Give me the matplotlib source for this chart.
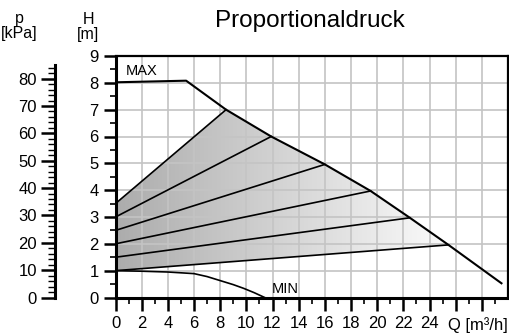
import numpy as np
import matplotlib
matplotlib.use('Agg')
from matplotlib import pyplot as plt
from matplotlib.colors import LinearSegmentedColormap
from matplotlib.patches import Polygon

plt.rcParams['font.family'] = ['Liberation Sans', 'DejaVu Sans']

# MAX curve (Q in m3/h, H in m)
max_q = [0, 5.4, 8.45, 11.9, 16.0, 19.5, 22.5, 25.45, 29.5]
max_h = [8.02, 8.08, 7.0, 6.0, 4.96, 3.97, 2.97, 1.96, 0.53]

# proportional pressure lines: head at zero flow, end on the MAX curve
prop_h0 = [3.5, 3.0, 2.5, 2.0, 1.5, 1.0]
prop_end = [2, 3, 4, 5, 6, 7]   # index into max_q / max_h

# MIN curve
min_q = [0, 2, 4, 6, 7, 8, 9, 9.8, 10.6, 11.4]
min_h = [1.0, 0.98, 0.95, 0.89, 0.78, 0.63, 0.48, 0.34, 0.18, 0.0]

x_labels = ['0', '2', '4', '6', '8', '10', '12', '14', '16', '18', '20', '22', '24']
KPA_PER_M = 9.81

fig = plt.figure(figsize=(5.09, 3.33), dpi=100)
ax = fig.add_axes([115.5 / 509, 1 - 297.5 / 333, 392.5 / 509, 241.5 / 333])
ax.set_xlim(0, 30)
ax.set_ylim(0, 9)

# grey gradient field between the lowest and highest proportional lines
top = [(0, prop_h0[0])] + [(max_q[i], max_h[i]) for i in range(prop_end[0], prop_end[-1] + 1)]
poly_pts = [(0, prop_h0[-1])] + top[::-1]
poly = Polygon(poly_pts, closed=True, facecolor='none', edgecolor='none')
ax.add_patch(poly)
cmap = LinearSegmentedColormap.from_list('g', ['#acacac', '#ffffff'])
grad = np.linspace(0, 1, 256).reshape(1, -1)
im = ax.imshow(grad, cmap=cmap, extent=[0, 26.5, 0, 9], aspect='auto',
               origin='lower', zorder=1, interpolation='bilinear')
im.set_clip_path(poly)

# grid
for q in range(2, 30, 2):
    ax.axvline(q, color='#c4c4c4', lw=1.2, zorder=2)
for h in range(1, 9):
    ax.axhline(h, color='#c4c4c4', lw=1.2, zorder=2)

ax.plot(max_q, max_h, color='black', lw=1.5, zorder=4)
for h0, i in zip(prop_h0, prop_end):
    ax.plot([0, max_q[i]], [h0, max_h[i]], color='black', lw=1.2, zorder=3)
ax.plot(min_q, min_h, color='black', lw=1.2, zorder=3)

ax.text(0.8, 8.45, 'MAX', fontsize=10.5, va='center', ha='left')
ax.text(11.95, 0.33, 'MIN', fontsize=10.5, va='center', ha='left')

# axes styling
for s in ['left', 'bottom']:
    ax.spines[s].set_linewidth(2.2)
for s in ['top', 'right']:
    ax.spines[s].set_linewidth(1.6)
ax.set_xticks(range(0, 30, 2))
ax.set_xticklabels(x_labels + ['', ''])
ax.set_xticks(range(1, 30, 2), minor=True)
ax.set_yticks(range(0, 10))
ax.set_yticks(np.arange(0.5, 9, 1), minor=True)
ax.tick_params(axis='both', which='major', length=9, width=1.8, labelsize=12, pad=4)
ax.tick_params(axis='y', which='major', pad=3)
ax.tick_params(axis='both', which='minor', length=4, width=1.2)
ax.text(26 - 0.6, -0.72, 'Q [m³/h]', fontsize=12, ha='left', va='top')

# pressure axis
pax = fig.add_axes([55 / 509, 1 - 297.5 / 333, 0.0001, 241.5 / 333])
pax.set_ylim(0, 9 * KPA_PER_M)
pax.set_xticks([])
for s in ['top', 'right', 'bottom']:
    pax.spines[s].set_visible(False)
pax.spines['left'].set_linewidth(2.2)
pax.spines['left'].set_bounds(0, 85)
pax.set_yticks(range(0, 90, 10))
pax.set_yticks(range(2, 86, 2), minor=True)
pax.tick_params(axis='y', which='major', length=10, width=1.8, labelsize=12, pad=3)
pax.tick_params(axis='y', which='minor', length=5, width=1.0)
pax.patch.set_visible(False)

fig.text(310 / 509, 1 - 21 / 333, 'Proportionaldruck', fontsize=17.5, ha='center', va='center')
fig.text(88 / 509, 1 - 27 / 333, 'H\n[m]', fontsize=11.5, ha='center', va='center', linespacing=1.0)
fig.text(19 / 509, 1 - 26 / 333, 'p\n[kPa]', fontsize=11.5, ha='center', va='center', linespacing=1.0)

fig.savefig('out.png', dpi=100)
